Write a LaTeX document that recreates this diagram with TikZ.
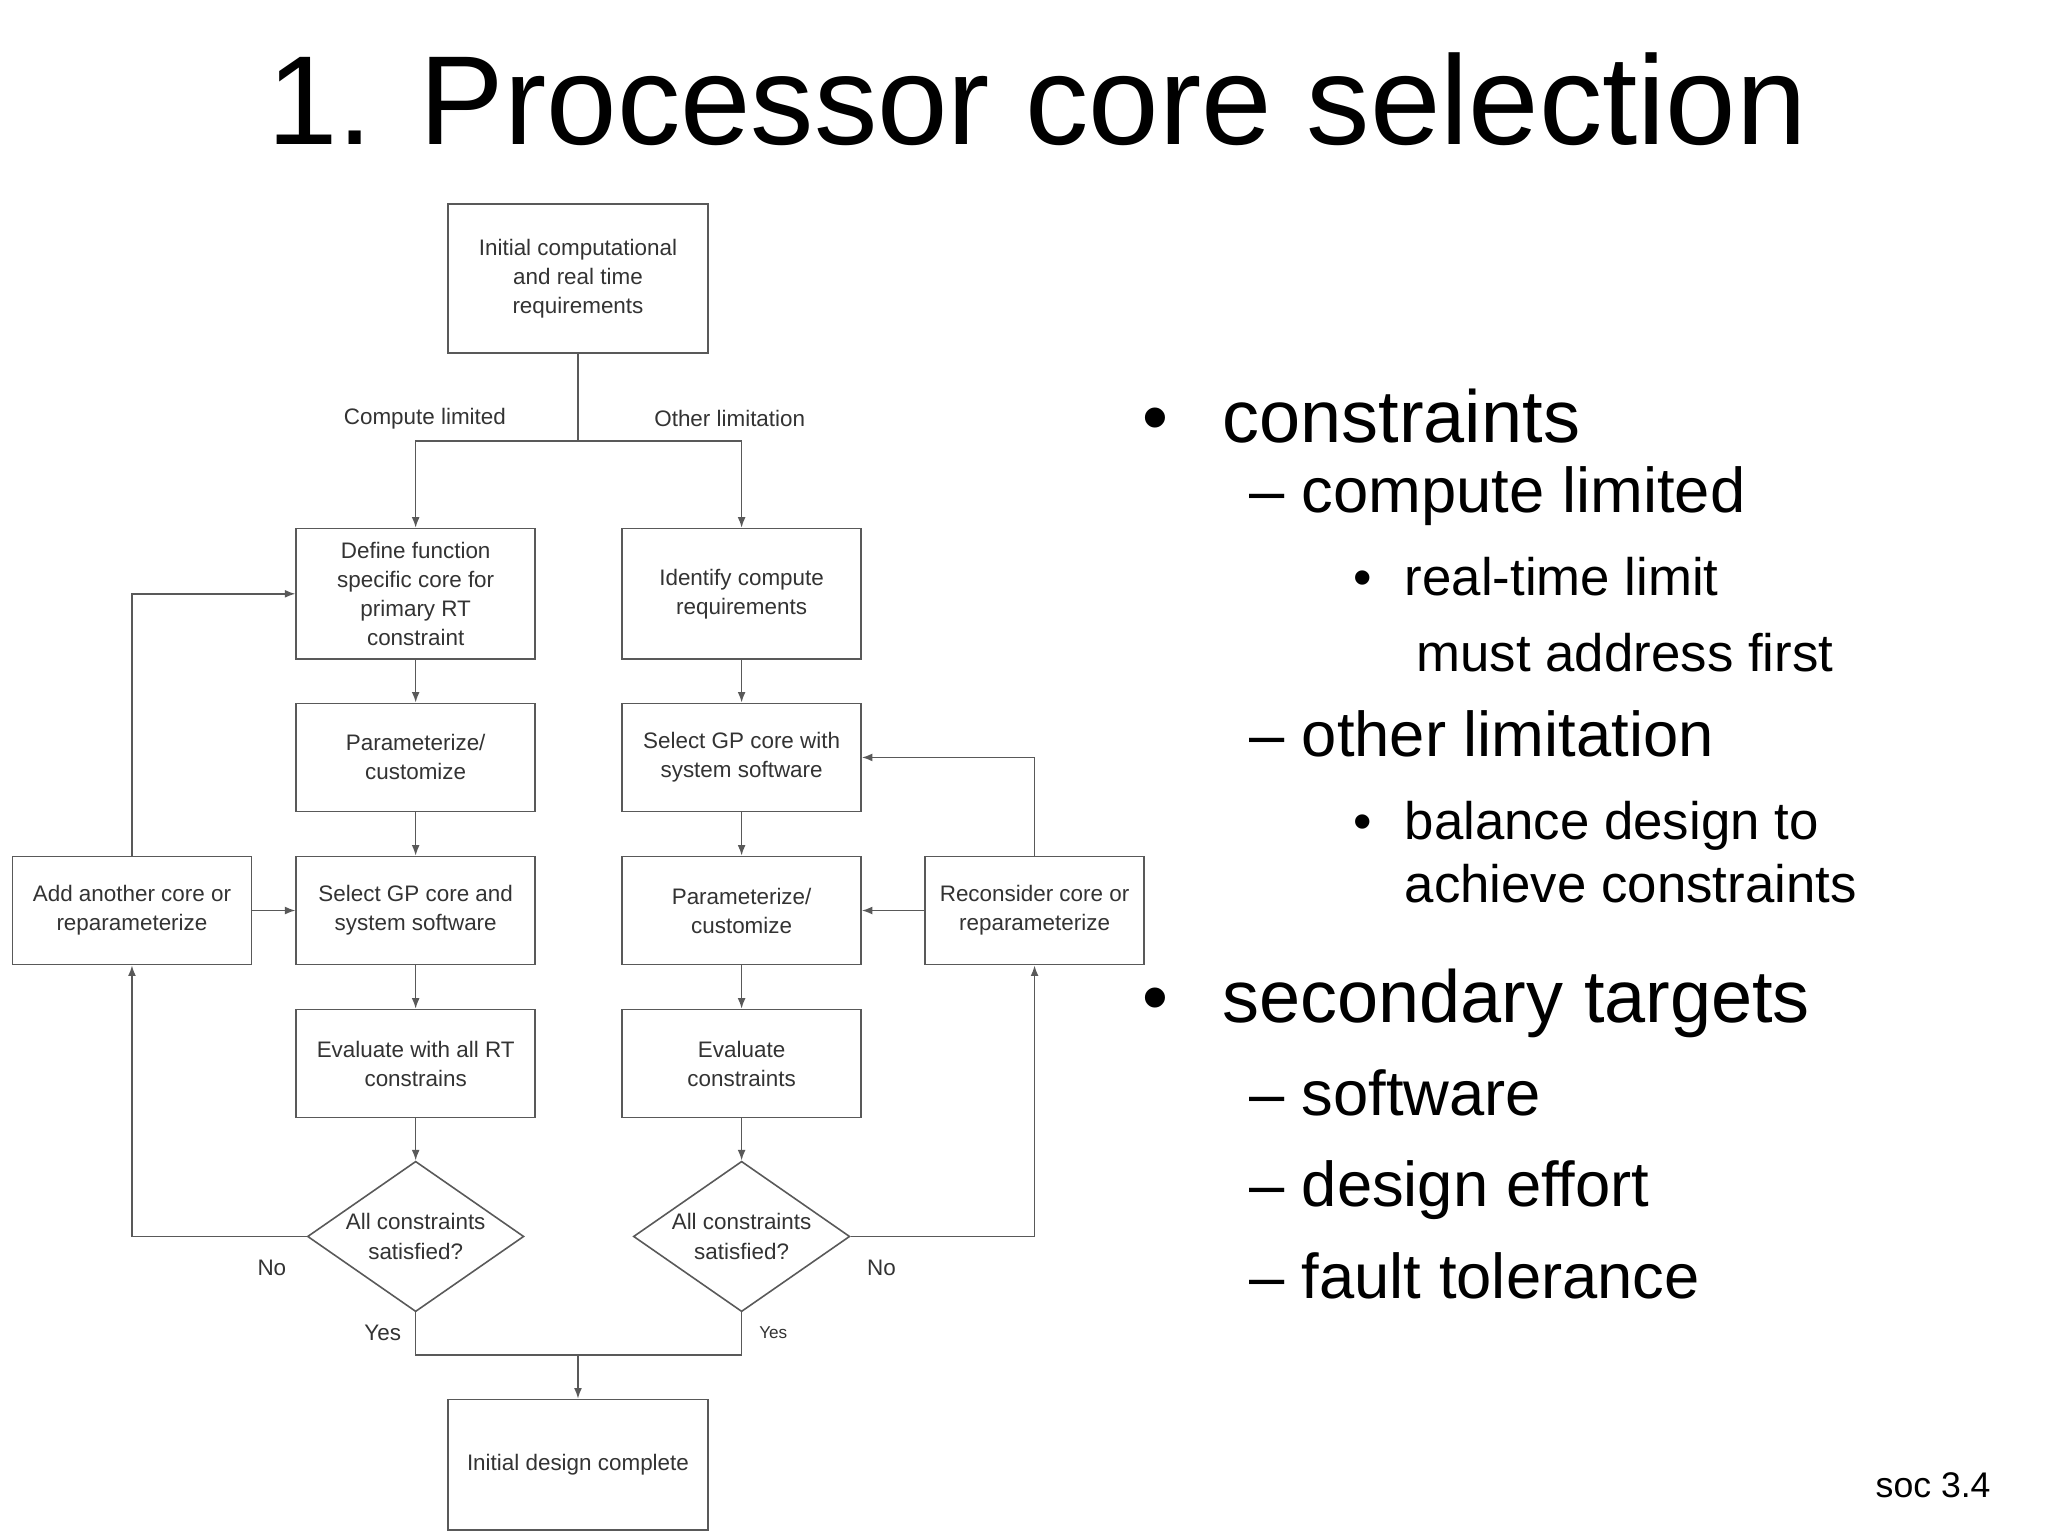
\documentclass[tikz,border=0pt]{standalone}
\usepackage{fontspec}
\setmainfont{Liberation Sans}
\usetikzlibrary{shapes.geometric,arrows.meta}
\begin{document}
\begin{tikzpicture}[x=1pt,y=-1pt,
  box/.style={draw=black!65,line width=1.2pt,minimum width=181pt,minimum height=82pt,align=center,font=\fontsize{17}{22}\selectfont,text=black!80,inner sep=2pt},
  dia/.style={draw=black!65,line width=1.2pt,diamond,minimum width=164pt,minimum height=114pt,aspect=1.44,inner sep=0pt,align=center,font=\fontsize{17}{22}\selectfont,text=black!80},
  lab/.style={font=\fontsize{17}{20}\selectfont,text=black!80},
  ln/.style={draw=black!65,line width=1.2pt},
  arr/.style={ln,-{Latex[length=8pt,width=6pt]}},
  big/.style={anchor=base west,font=\fontsize{56}{60}\selectfont},
  mid/.style={anchor=base west,font=\fontsize{48}{52}\selectfont},
  sml/.style={anchor=base west,font=\fontsize{40}{44}\selectfont}]
\useasboundingbox (0,0) rectangle (1552,1164);
\fill[white] (0,0) rectangle (1552,1164);
\node[font=\fontsize{96}{100}\selectfont] (title) at (786,75) {1. Processor core selection};

\node[box,minimum width=197pt,minimum height=113pt] (init) at (438,211) {Initial computational\\and real time\\requirements};
\node[box,minimum height=99pt] (def) at (315,450) {Define function\\specific core for\\primary RT\\constraint};
\node[box,minimum height=99pt] (ident) at (562,450) {Identify compute\\requirements};
\node[box] (par1) at (315,574) {Parameterize/\\customize};
\node[box] (selgp) at (562,574) {Select GP core with\\system software};
\node[box] (selsys) at (315,690) {Select GP core and\\system software};
\node[box] (par2) at (562,690) {Parameterize/\\customize};
\node[box] (ev1) at (315,806) {Evaluate with all RT\\constrains};
\node[box] (ev2) at (562,806) {Evaluate\\constraints};
\node[dia] (d1) at (315,937) {All constraints\\satisfied?};
\node[dia] (d2) at (562,937) {All constraints\\satisfied?};
\node[box] (add) at (100,690) {Add another core or\\reparameterize};
\node[box,minimum width=166pt] (rec) at (784,690) {Reconsider core or\\reparameterize};
\node[box,minimum width=197pt,minimum height=99pt] (fin) at (438,1110) {Initial design complete};

\node[lab] (lcl) at (322,317) {Compute limited};
\node[lab] (lol) at (553,317) {Other limitation};
\node[lab] (no1) at (206,961) {No};
\node[lab] (no2) at (668,961) {No};
\node[lab] (yes1) at (290,1010) {Yes};
\node[lab,font=\fontsize{13}{15}\selectfont] (yes2) at (586,1010) {Yes};

\coordinate (split) at (438,334);
\coordinate (merge) at (438,1027);
\draw[ln] (init.south) -- (split);
\draw[arr] (split) -| (def.north);
\draw[arr] (split) -| (ident.north);
\draw[arr] (def) -- (par1);
\draw[arr] (par1) -- (selsys);
\draw[arr] (selsys) -- (ev1);
\draw[arr] (ev1) -- (d1.north);
\draw[arr] (ident) -- (selgp);
\draw[arr] (selgp) -- (par2);
\draw[arr] (par2) -- (ev2);
\draw[arr] (ev2) -- (d2.north);
\draw[arr] (d1.west) -| (add.south);
\draw[arr] (add.north) |- (def.west);
\draw[arr] (add) -- (selsys);
\draw[arr] (d2.east) -| (rec.south);
\draw[arr] (rec.north) |- (selgp.east);
\draw[arr] (rec) -- (par2);
\draw[ln] (d1.south) |- (merge) -| (d2.south);
\draw[arr] (merge) -- (fin.north);

\node[big] (b1) at (862,335) {•};
\node[big] (t1) at (923,335) {constraints};
\node[mid] (t2) at (943,388) {– compute limited};
\node[sml] (t3) at (1022,451) {•};
\node[sml] (t3b) at (1061,451) {real-time limit};
\node[sml] (t4) at (1070,509) {must address first};
\node[mid] (t5) at (943,573) {– other limitation};
\node[sml] (t6) at (1022,636) {•};
\node[sml] (t6b) at (1061,636) {balance design to};
\node[sml] (t7) at (1061,684) {achieve constraints};
\node[big] (b2) at (862,775) {•};
\node[big] (t8) at (923,775) {secondary targets};
\node[mid] (t9) at (943,845) {– software};
\node[mid] (t10) at (943,914) {– design effort};
\node[mid] (t11) at (943,984) {– fault tolerance};
\node[anchor=base east,font=\fontsize{27}{30}\selectfont] (soc) at (1512,1135) {soc 3.4};
\end{tikzpicture}
\end{document}
